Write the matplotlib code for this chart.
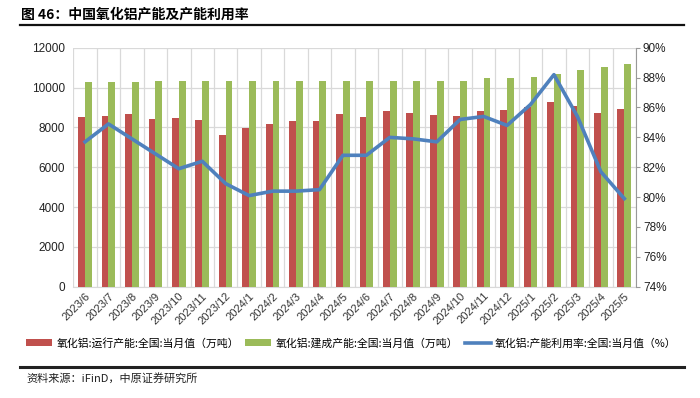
import matplotlib
matplotlib.use("Agg")
import matplotlib.pyplot as plt
import numpy as np
from matplotlib.lines import Line2D
from matplotlib.patches import Patch
from matplotlib.ticker import FuncFormatter

months = ["2023/6", "2023/7", "2023/8", "2023/9", "2023/10", "2023/11", "2023/12",
          "2024/1", "2024/2", "2024/3", "2024/4", "2024/5", "2024/6", "2024/7",
          "2024/8", "2024/9", "2024/10", "2024/11", "2024/12", "2025/1", "2025/2",
          "2025/3", "2025/4", "2025/5"]
running = [8520, 8590, 8650, 8420, 8470, 8390, 7630, 7980, 8180, 8330, 8300, 8650,
           8500, 8800, 8720, 8600, 8570, 8820, 8880, 9030, 9280, 9100, 8700, 8920]
built = [10270, 10270, 10270, 10320, 10320, 10320, 10320, 10320, 10320, 10320, 10320, 10320,
         10330, 10330, 10330, 10330, 10330, 10470, 10470, 10520, 10670, 10870, 11050, 11170]
util = [83.7, 84.9, 83.9, 82.9, 81.9, 82.4, 80.9, 80.1, 80.4, 80.4, 80.5, 82.8,
        82.8, 84.0, 83.9, 83.7, 85.2, 85.4, 84.8, 86.2, 88.2, 85.4, 81.7, 79.9]

legend_labels = ["氧化铝:运行产能:全国:当月值（万吨）",
                 "氧化铝:建成产能:全国:当月值（万吨）",
                 "氧化铝:产能利用率:全国:当月值（%）"]
title = "图 46：中国氧化铝产能及产能利用率"
source = "资料来源：iFinD，中原证券研究所"

RED = "#C0504D"
GREEN = "#9BBB59"
BLUE = "#4F81BD"
GRID = "#D9D9D9"
CJK = ["Noto Sans CJK SC", "DejaVu Sans"]
NUM = "Liberation Sans"

fig = plt.figure(figsize=(7.0, 3.98), dpi=100)
ax = fig.add_axes([0.1047, 0.2796, 0.8039, 0.6004])
ax2 = ax.twinx()

x = np.arange(len(months))
w = 0.29
ax.bar(x - w / 2, running, width=w, color=RED, zorder=3)
ax.bar(x + w / 2, built, width=w, color=GREEN, zorder=3)
ax2.plot(x, util, color=BLUE, lw=2.6, zorder=4, solid_joinstyle="round")

ax.set_xlim(-0.5, len(months) - 0.5)
ax.set_ylim(0, 12000)
ax.set_yticks(np.arange(0, 12001, 2000))
ax2.set_ylim(74, 90)
ax2.set_yticks(np.arange(74, 90.1, 2))
ax2.yaxis.set_major_formatter(FuncFormatter(lambda v, p: f"{v:.0f}%"))

# gridlines
ax.set_xticks(x)
ax.set_xticks(np.arange(-0.5, len(months), 1), minor=True)
ax.grid(axis="y", color=GRID, lw=0.9, zorder=0)
ax.grid(axis="x", which="minor", color=GRID, lw=0.9, zorder=0)
ax.grid(axis="x", which="major", visible=False)
ax.set_axisbelow(True)

ax.set_xticklabels(months, rotation=45, ha="right", rotation_mode="anchor",
                   fontsize=8, family=NUM, color="#333333")
ax.tick_params(axis="x", which="both", length=0, pad=3)
ax.tick_params(axis="y", length=0, labelsize=8.5, pad=6, labelcolor="#222222")
for lab in ax.get_yticklabels():
    lab.set_family(NUM)
for s in ["left", "right", "top"]:
    ax.spines[s].set_visible(False)
ax.spines["bottom"].set_color(GRID)

for s in ["left", "top", "bottom"]:
    ax2.spines[s].set_visible(False)
ax2.spines["right"].set_color("#999999")
ax2.tick_params(axis="y", length=3, color="#999999", labelsize=8.5, pad=2, labelcolor="#222222")
for lab in ax2.get_yticklabels():
    lab.set_family(NUM)

# legend
handles = [Patch(facecolor=RED, edgecolor="none"),
           Patch(facecolor=GREEN, edgecolor="none"),
           Line2D([0], [0], color=BLUE, lw=2.6)]
fig.legend(handles, legend_labels, loc="center", bbox_to_anchor=(0.502, 0.138), ncol=3,
           frameon=False, prop={"family": CJK, "size": 7.8}, handlelength=2.4,
           handleheight=0.7, handletextpad=0.4, columnspacing=0.6)

# title and source
fig.text(0.03, 0.963, title, family=CJK, fontsize=10, fontweight="bold", va="center", ha="left")
fig.add_artist(Line2D([0.029, 0.977], [0.937, 0.937], color="#111111", lw=1.6, transform=fig.transFigure))
fig.add_artist(Line2D([0.029, 0.977], [0.079, 0.079], color="#222222", lw=2.2, transform=fig.transFigure))
fig.text(0.038, 0.05, source, family=CJK, fontsize=8, va="center", ha="left", color="#222222")

fig.savefig("out.png", dpi=100)
